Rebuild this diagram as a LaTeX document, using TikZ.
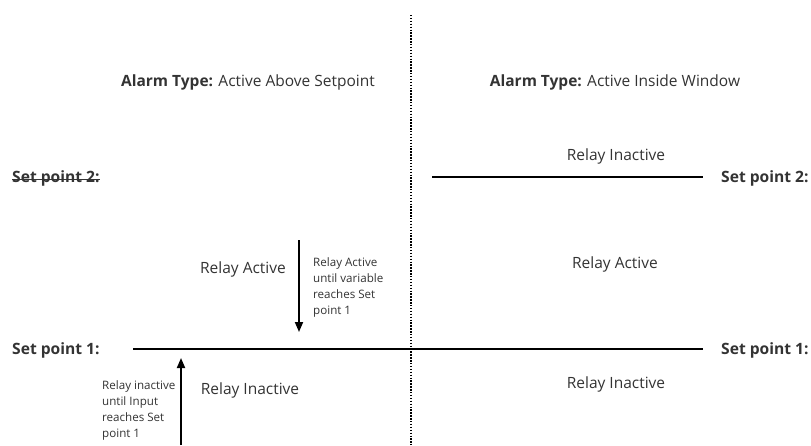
\documentclass[tikz,border=0pt]{standalone}
\usepackage{fontspec}
\setmainfont{Open Sans}
\usetikzlibrary{arrows.meta}
\definecolor{txt}{HTML}{333333}
\begin{document}
\begin{tikzpicture}[x=1pt,y=-1pt,
  lbl/.style={font=\fontsize{15.5}{18}\selectfont, text=txt, inner sep=0},
  bld/.style={font=\fontsize{15.6}{18}\selectfont\bfseries, text=txt, inner sep=0},
  small/.style={font=\fontsize{11.6}{16}\selectfont, text=txt, inner sep=0, align=left},
  level/.style={line width=1.8pt, black},
  flow/.style={line width=1.8pt, black, -{Triangle[length=10pt,width=8pt]}},
  divider/.style={dash pattern=on 1.4pt off 1.5pt, line width=1.4pt, black},
  strike/.style={line width=1pt, txt}]
\useasboundingbox (0,0) rectangle (811,445);
% divider
\coordinate (dtop) at (411,15);
\coordinate (dbot) at (411,445);
\draw[divider] (dtop) -- (dbot);
% titles
\node[lbl, anchor=mid] (t1) at (248,84) {\textbf{Alarm Type:} Active Above Setpoint};
\node[lbl, anchor=mid] (t2) at (615,84) {\textbf{Alarm Type:} Active Inside Window};
% set point labels
\node[bld, anchor=mid west] (sp2l) at (12,179.5) {Set point 2:};
\draw[strike] (sp2l.mid west) -- (sp2l.mid east);
\node[bld, anchor=mid west] (sp1l) at (12,351.5) {Set point 1:};
\node[bld, anchor=mid west] (sp2r) at (721,179.5) {Set point 2:};
\node[bld, anchor=mid west] (sp1r) at (721,351.5) {Set point 1:};
% level lines
\coordinate (l1a) at (133,349);
\coordinate (l1b) at (703,349);
\coordinate (l2a) at (432,177);
\coordinate (l2b) at (703,177);
\draw[level] (l1a) -- (l1b);
\draw[level] (l2a) -- (l2b);
% relay state labels
\node[lbl, anchor=mid] (ra1) at (243,271) {Relay Active};
\node[lbl, anchor=mid] (ri1) at (250,392) {Relay Inactive};
\node[lbl, anchor=mid] (ri2) at (616,158) {Relay Inactive};
\node[lbl, anchor=mid] (ra2) at (615,266) {Relay Active};
\node[lbl, anchor=mid] (ri3) at (616,386) {Relay Inactive};
% arrows
\coordinate (a1s) at (299,240);
\coordinate (a1e) at (299,332);
\coordinate (a2s) at (181,445);
\coordinate (a2e) at (181,358);
\draw[flow] (a1s) -- (a1e);
\draw[flow] (a2s) -- (a2e);
% notes
\node[small, anchor=north west] (n1) at (313,257) {Relay Active\\until variable\\reaches Set\\point 1};
\node[small, anchor=north west] (n2) at (102,380) {Relay inactive\\until Input\\reaches Set\\point 1};
\end{tikzpicture}
\end{document}
